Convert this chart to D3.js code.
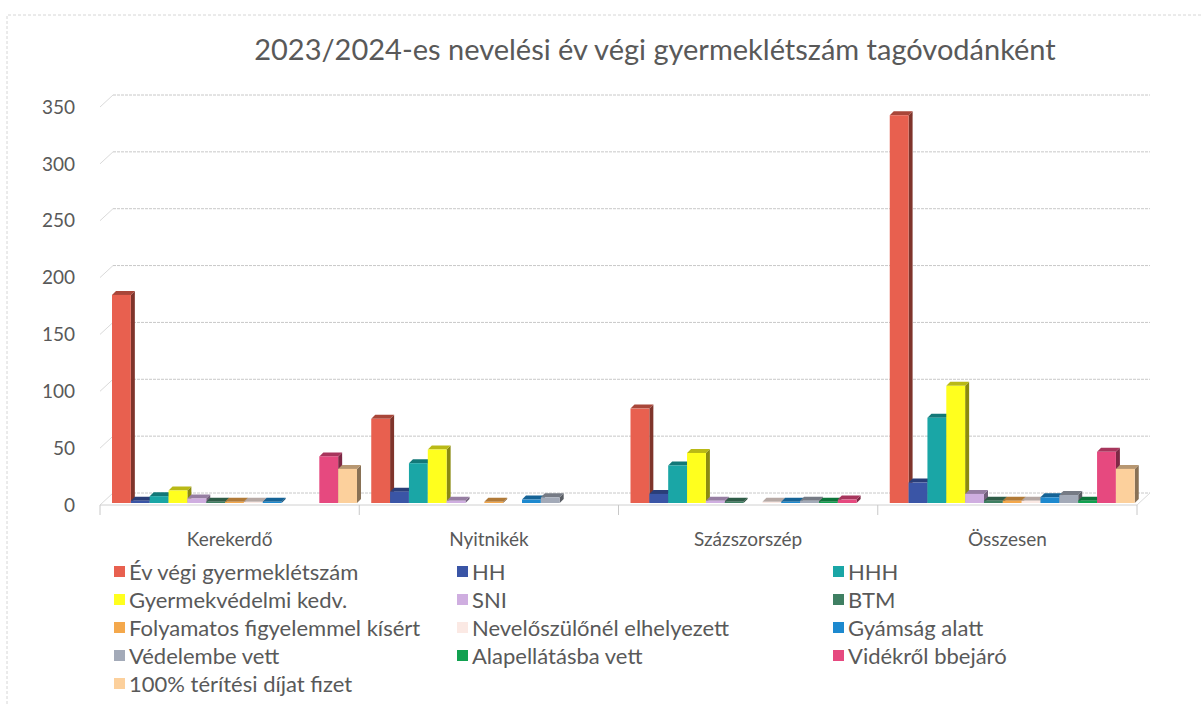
<!DOCTYPE html>
<html>
<head>
<meta charset="utf-8">
<script src="https://cdn.jsdelivr.net/npm/d3@7"></script>
<style>
  body { margin: 0; background: #fff; }
  text { font-family: Lato, "Open Sans", sans-serif; fill: #595959; }
</style>
</head>
<body>
<div id="main"></div>
<script>
const categories = ["Kerekerdő", "Nyitnikék", "Százszorszép", "Összesen"];

const seriesNames = [
    "Év végi gyermeklétszám", "HH", "HHH",
    "Gyermekvédelmi kedv.", "SNI", "BTM",
    "Folyamatos figyelemmel kísért", "Nevelőszülőnél elhelyezett", "Gyámság alatt",
    "Védelembe vett", "Alapellátásba vett", "Vidékről bbejáró",
    "100% térítési díjat fizet"
];

const seriesColors = [
    "#e8604f", "#3a55a6", "#1aa6a6",
    "#ffff1e", "#cfaee0", "#3f7f62",
    "#f4a84c", "#fbe9e4", "#1d89cf",
    "#a3aab8", "#11a150", "#e6497f",
    "#fcd09c"
];

// one array per category, in seriesNames order
const kerekerdo    = [183, 2, 6, 11, 4, 1, 1, 1, 1, 0, 0, 41, 30];
const nyitnikek    = [74, 10, 35, 47, 2, 0, 1, 0, 3, 5, 0, 0, 0];
const szazszorszep = [83, 8, 33, 44, 2, 1, 0, 1, 1, 2, 1, 3, 0];
const osszesen     = [341, 18, 75, 103, 8, 2, 2, 2, 5, 7, 2, 45, 30];

const yTicks = [0, 50, 100, 150, 200, 250, 300, 350];

const valuesByCategory = [kerekerdo, nyitnikek, szazszorszep, osszesen];

const width = 1201, height = 704;
const depthX = 13, depthY = -12;   // back wall offset
const barDX = 4, barDY = -4;       // bar depth

const svg = d3.select('#main')
    .append('svg')
    .attr('width', width)
    .attr('height', height);

// scanned page frame
svg.append('path')
    .attr('d', 'M7,704 L7,15 L1201,15')
    .attr('fill', 'none')
    .style('stroke', '#d6d6d6')
    .style('stroke-dasharray', '3,2');

const x0 = d3.scaleBand().domain(categories).range([100, 1137]);
const x1 = d3.scaleBand().domain(seriesNames).range([12, 257]);
const y = d3.scaleLinear().domain([0, 350]).range([505, 107]);

// title
svg.append('text')
    .attr('x', 655)
    .attr('y', 60)
    .attr('text-anchor', 'middle')
    .style('font-size', '29px')
    .text("2023/2024-es nevelési év végi gyermeklétszám tagóvodánként");

// back wall gridlines + left wall stubs
const grid = svg.append('g');
yTicks.forEach(v => {
    grid.append('line')
        .attr('x1', 100 + depthX).attr('x2', 1137 + depthX)
        .attr('y1', y(v) + depthY).attr('y2', y(v) + depthY)
        .style('stroke', '#c8c8c8')
        .style('stroke-dasharray', '3,1');
    grid.append('line')
        .attr('x1', 100).attr('x2', 100 + depthX)
        .attr('y1', y(v)).attr('y2', y(v) + depthY)
        .style('stroke', '#dadada');
});

// floor front edge and category ticks
svg.append('line')
    .attr('x1', 100).attr('x2', 1137)
    .attr('y1', y(0)).attr('y2', y(0))
    .style('stroke', '#d0d0d0');
svg.append('line')
    .attr('x1', 1137).attr('x2', 1137 + depthX)
    .attr('y1', y(0)).attr('y2', y(0) + depthY)
    .style('stroke', '#dadada');
categories.concat(["end"]).forEach((c, i) => {
    const xx = i < categories.length ? x0(c) : 1137;
    svg.append('line')
        .attr('x1', xx).attr('x2', xx)
        .attr('y1', y(0)).attr('y2', y(0) + 10)
        .style('stroke', '#c8c8c8');
});

// y labels
svg.append('g').selectAll('text')
    .data(yTicks)
    .enter()
    .append('text')
    .attr('x', 75)
    .attr('y', d => y(d))
    .attr('dy', '0.35em')
    .attr('text-anchor', 'end')
    .style('font-size', '19px')
    .text(d => d);

// category labels
svg.append('g').selectAll('text')
    .data(categories)
    .enter()
    .append('text')
    .attr('x', d => x0(d) + x0.bandwidth() / 2)
    .attr('y', 546)
    .attr('text-anchor', 'middle')
    .style('font-size', '19px')
    .text(d => d);

// 3D bars
const bars = [];
categories.forEach((c, ci) => {
    seriesNames.forEach((s, si) => {
        bars.push({ cat: c, series: s, value: valuesByCategory[ci][si], color: seriesColors[si] });
    });
});

const bw = x1.bandwidth();
const base = y(0) - 2;
const barG = svg.append('g');

bars.filter(d => d.value > 0).forEach(d => {
    const bx = x0(d.cat) + x1(d.series);
    const top = y(d.value) - 2;
    const g = barG.append('g');
    g.append('path')
        .attr('d', `M${bx + bw},${top} L${bx + bw + barDX},${top + barDY} L${bx + bw + barDX},${base + barDY} L${bx + bw},${base} Z`)
        .attr('fill', d3.color(d.color).darker(1.7));
    g.append('path')
        .attr('d', `M${bx},${top} L${bx + barDX},${top + barDY} L${bx + bw + barDX},${top + barDY} L${bx + bw},${top} Z`)
        .attr('fill', d3.color(d.color).darker(0.9));
    g.append('rect')
        .attr('x', bx)
        .attr('y', top)
        .attr('width', bw)
        .attr('height', base - top)
        .attr('fill', d.color);
});

// legend
const legendCols = [114, 457, 833];
const legend = svg.append('g');
seriesNames.forEach((s, i) => {
    const lx = legendCols[i % 3];
    const ly = 572 + Math.floor(i / 3) * 28;
    legend.append('rect')
        .attr('x', lx).attr('y', ly - 6)
        .attr('width', 11).attr('height', 11)
        .attr('fill', seriesColors[i]);
    legend.append('text')
        .attr('x', lx + 15)
        .attr('y', ly)
        .attr('dy', '0.35em')
        .style('font-size', '22px')
        .text(s);
});
</script>
</body>
</html>
